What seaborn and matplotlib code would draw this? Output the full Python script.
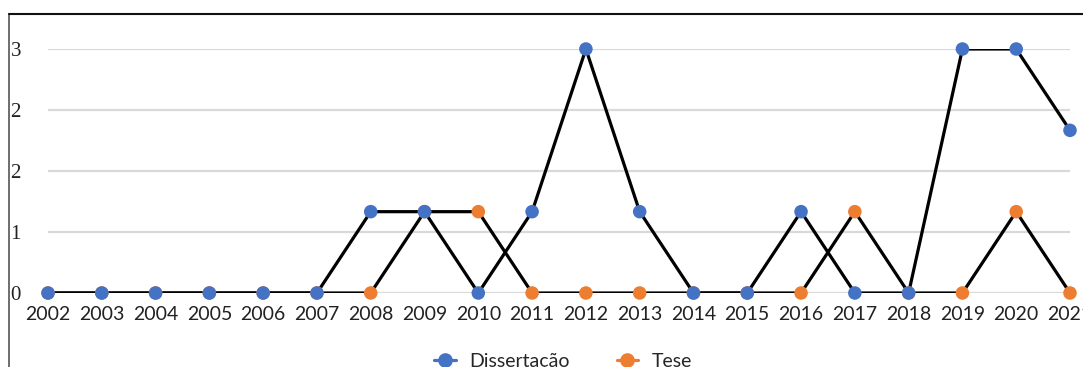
import seaborn as sns
import matplotlib.pyplot as plt
import pandas as pd
from matplotlib.lines import Line2D

# counts per year
anos = list(range(2002, 2022))
dissertacao = [0, 0, 0, 0, 0, 0, 1, 1, 0, 1, 3, 1, 0, 0, 1, 0, 0, 3, 3, 2]
tese = [0, 0, 0, 0, 0, 0, 0, 1, 1, 0, 0, 0, 0, 0, 0, 1, 0, 0, 1, 0]

y_ticks = [0, 0.75, 1.5, 2.25, 3]
y_labels = ['0', '1', '2', '2', '3']

azul = '#4472C4'
laranja = '#ED7D31'

# tese first so dissertacao markers end up on top
df = pd.DataFrame({
    'ano': anos + anos,
    'valor': tese + dissertacao,
    'tipo': ['Tese'] * len(anos) + ['Dissertação'] * len(anos),
})

sns.set_style('white')
plt.rcParams['font.family'] = ['Lato', 'DejaVu Sans']

fig = plt.figure(figsize=(10.83, 3.67), dpi=100)
ax = fig.add_axes([48 / 1083, 74 / 367, 1022 / 1083, 244 / 367])

sns.lineplot(data=df, x='ano', y='valor', hue='tipo', palette={'Tese': 'black', 'Dissertação': 'black'},
             linewidth=2.3, legend=False, ax=ax, zorder=3)
sns.scatterplot(data=df, x='ano', y='valor', hue='tipo', palette={'Tese': laranja, 'Dissertação': azul},
                s=95, linewidth=0, legend=False, ax=ax, zorder=4, clip_on=False)

ax.set_xlim(2002, 2021)
ax.set_ylim(0, 3)
ax.set_xticks(anos)
ax.set_xticklabels([str(a) for a in anos], fontsize=14)
ax.set_yticks(y_ticks)
ax.set_yticklabels(y_labels, fontsize=15, family='Liberation Serif')
for lab in ax.get_yticklabels():
    lab.set_ha('left')
ax.tick_params(axis='y', length=0, pad=27, colors='#222222')
ax.tick_params(axis='x', length=0, pad=9, colors='#222222')
ax.set_xlabel('')
ax.set_ylabel('')
ax.grid(axis='y', color='#d9d9d9', linewidth=1.6)
ax.grid(axis='x', visible=False)
for s in ax.spines.values():
    s.set_visible(False)
for t in ax.get_xticklabels() + ax.get_yticklabels():
    t.set_clip_on(False)

# chart border (cropped)
fig.add_artist(Line2D([8.5 / 1083, 8.5 / 1083], [0, 1 - 13.5 / 367], color='#555555', linewidth=1.2))
fig.add_artist(Line2D([8.5 / 1083, 1], [1 - 13.5 / 367, 1 - 13.5 / 367], color='#111111', linewidth=1.5))

handles = [
    Line2D([], [], color=azul, marker='o', markersize=9.5, linewidth=2.3),
    Line2D([], [], color=laranja, marker='o', markersize=9.5, linewidth=2.3),
]
fig.legend(handles, ['Dissertação', 'Tese'], loc='upper center', bbox_to_anchor=(0.52, 0.085),
           ncol=2, frameon=False, fontsize=14, handlelength=1.1, columnspacing=2.4, handletextpad=0.7)

fig.savefig('out.png', dpi=100)
